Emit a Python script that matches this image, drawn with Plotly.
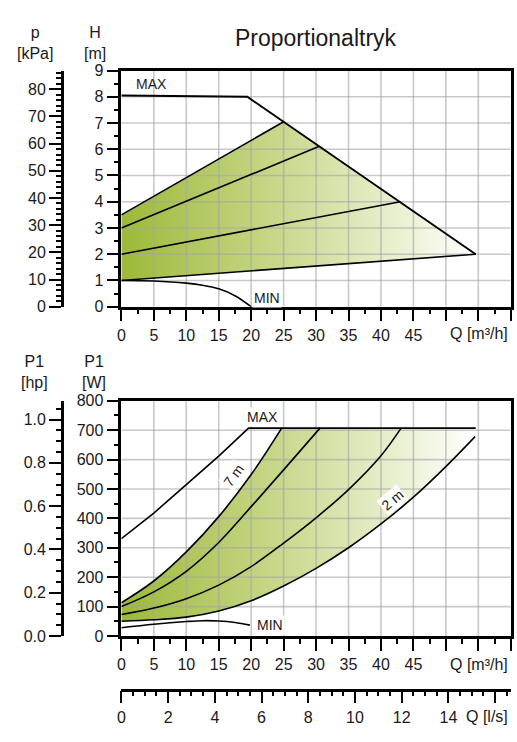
import numpy as np
import plotly.graph_objects as go

FIG_W, FIG_H = 517, 742
FONT = "Liberation Sans, Arial, sans-serif"
TXT = "#1a1a1a"

# ---------------- data: top panel (head H [m] vs Q [m3/h]) ----------------
q_max_h = [0, 10, 19.4, 54.6]
h_max = [8.05, 8.03, 8.0, 2.0]
q_min_h = [0, 5, 10, 12.5, 15, 17.5, 20]
h_min = [1.0, 0.98, 0.9, 0.82, 0.68, 0.42, 0.0]
prop_labels = ["7 m", "6 m", "4 m", "2 m"]
prop_q_end = [25.0, 30.5, 43.0, 54.6]
prop_h_start = [3.5, 3.0, 2.0, 1.0]
prop_h_end = [7.05, 6.11, 4.0, 2.0]

# ---------------- data: bottom panel (P1 [W] vs Q [m3/h]) ----------------
q_7m = [0, 5, 10, 15, 20, 24.7]
p_7m = [113, 187, 286, 406, 549, 707]
q_6m = [0, 5, 10, 15, 20, 25, 30.6]
p_6m = [100, 150, 220, 318, 440, 565, 707]
q_4m = [0, 5, 10, 15, 20, 25, 30, 35, 40, 43.1]
p_4m = [73, 95, 127, 173, 236, 316, 402, 498, 613, 707]
q_2m = [0, 5, 10, 15, 20, 25, 30, 35, 40, 45, 50, 54.5]
p_2m = [50, 55, 64, 85, 120, 170, 230, 300, 381, 472, 576, 678]
q_pmax = [0, 5, 10, 15, 19.6, 54.6]
p_pmax = [331, 418, 515, 612, 707, 707]
q_pmin = [0, 5, 10, 12.5, 15, 17.5, 19.8]
p_pmin = [28, 40, 49, 52, 51, 46, 37]

# ---------------- tick labels ----------------
q_ticks = list(range(0, 61, 5))
q_ticktext = [str(v) if v <= 45 else "" for v in q_ticks]
ls_ticks = list(range(0, 17, 2))
ls_ticktext = [str(v) if v <= 14 else "" for v in ls_ticks]
hp_ticks = [0, 0.2, 0.4, 0.6, 0.8, 1.0]
hp_ticktext = ["0.0", "0.2", "0.4", "0.6", "0.8", "1.0"]

Q_RANGE = [0, 60]
H_RANGE = [0, 9]
KPA_RANGE = [0, 86.9]
W_RANGE = [0, 800]
HP_RANGE = [0, 1.087]
LS_RANGE = [0, 60 / 3.6]


def px(x):
    return x / FIG_W


def py(y):
    return 1 - y / FIG_H


X_DOM = [px(118.3), px(510.7)]
TOP_DOM = [py(305.7), py(64)]
BOT_DOM = [py(642.7), py(402)]

GREEN_SCALE = [[0, "rgb(156,185,56)"], [0.5, "rgb(205,220,150)"], [1, "rgb(255,255,255)"]]
GRID_COL = "rgba(165,165,165,0.6)"
NOHOVER = dict(hoverinfo="skip", showlegend=False)

fig = go.Figure()

# ---- top panel fill ----
top_fill_x = [0, prop_q_end[3], prop_q_end[0], 0]
top_fill_y = [prop_h_start[3], prop_h_end[3], prop_h_end[0], prop_h_start[0]]
fig.add_trace(go.Scatter(x=top_fill_x, y=top_fill_y, fill="toself", mode="none",
                         fillgradient=dict(type="horizontal", colorscale=GREEN_SCALE),
                         xaxis="x", yaxis="y", **NOHOVER))


def grid_trace(xvals, yvals, xr, yr, xa, ya):
    gx, gy = [], []
    for v in xvals:
        gx += [v, v, None]
        gy += [yr[0], yr[1], None]
    for v in yvals:
        gx += [xr[0], xr[1], None]
        gy += [v, v, None]
    return go.Scatter(x=gx, y=gy, mode="lines", line=dict(color=GRID_COL, width=1.6),
                      xaxis=xa, yaxis=ya, **NOHOVER)


fig.add_trace(grid_trace(q_ticks[1:-1], list(range(1, 9)), Q_RANGE, H_RANGE, "x", "y"))

LINE = dict(color="black", width=1.6)
for i in range(4):
    fig.add_trace(go.Scatter(x=[0, prop_q_end[i]], y=[prop_h_start[i], prop_h_end[i]], mode="lines",
                             line=LINE, xaxis="x", yaxis="y", **NOHOVER))
fig.add_trace(go.Scatter(x=q_max_h, y=h_max, mode="lines", line=dict(color="black", width=1.9),
                         xaxis="x", yaxis="y", **NOHOVER))
fig.add_trace(go.Scatter(x=q_min_h, y=h_min, mode="lines", line_shape="spline", line=LINE,
                         xaxis="x", yaxis="y", **NOHOVER))
fig.add_trace(go.Scatter(x=[0], y=[0], mode="markers", marker=dict(opacity=0), xaxis="x", yaxis="y2",
                         **NOHOVER))

# ---- bottom panel fill: between 2 m curve and (7 m curve + MAX plateau) ----
fig.add_trace(go.Scatter(x=q_2m, y=p_2m, mode="lines", line=dict(width=0), line_shape="spline",
                         xaxis="x2", yaxis="y3", **NOHOVER))
top_edge_x = q_7m + [q_7m[-1] + 0.1, q_pmax[-1]]
top_edge_y = p_7m + [p_pmax[-1], p_pmax[-1]]
fig.add_trace(go.Scatter(x=top_edge_x, y=top_edge_y, mode="lines", line=dict(width=0), line_shape="spline",
                         fill="tonexty", fillgradient=dict(type="horizontal", colorscale=GREEN_SCALE),
                         xaxis="x2", yaxis="y3", **NOHOVER))
fig.add_trace(grid_trace(q_ticks[1:-1], list(range(100, 800, 100)), Q_RANGE, W_RANGE, "x2", "y3"))
for qq, pp in [(q_7m, p_7m), (q_6m, p_6m), (q_4m, p_4m), (q_2m, p_2m)]:
    fig.add_trace(go.Scatter(x=qq, y=pp, mode="lines", line=LINE, line_shape="spline",
                             xaxis="x2", yaxis="y3", **NOHOVER))
fig.add_trace(go.Scatter(x=q_pmax, y=p_pmax, mode="lines", line=LINE, xaxis="x2", yaxis="y3", **NOHOVER))
fig.add_trace(go.Scatter(x=q_pmin, y=p_pmin, mode="lines", line_shape="spline", line=LINE,
                         xaxis="x2", yaxis="y3", **NOHOVER))
fig.add_trace(go.Scatter(x=[0], y=[0], mode="markers", marker=dict(opacity=0), xaxis="x2", yaxis="y4",
                         **NOHOVER))
fig.add_trace(go.Scatter(x=[0], y=[0], mode="markers", marker=dict(opacity=0), xaxis="x3", yaxis="y3",
                         **NOHOVER))

TICKFONT = dict(size=16, color=TXT, family=FONT)


def minor(d):
    return dict(tickmode="linear", tick0=0, dtick=d, ticks="outside", ticklen=5, tickwidth=1.5,
                tickcolor="black", showgrid=False)


base = dict(showline=True, linecolor="black", linewidth=2.5, ticks="outside", tickcolor="black",
            tickwidth=2.2, ticklen=12, showgrid=False, zeroline=False, tickfont=TICKFONT, fixedrange=True)

fig.update_layout(
    width=FIG_W, height=FIG_H, autosize=False,
    margin=dict(l=0, r=0, t=0, b=0),
    paper_bgcolor="white", plot_bgcolor="white",
    font=dict(family=FONT, color=TXT),
    xaxis=dict(base, domain=X_DOM, range=Q_RANGE, anchor="y", mirror=True,
               tickmode="array", tickvals=q_ticks, ticktext=q_ticktext, minor=minor(2.5)),
    yaxis=dict(base, domain=TOP_DOM, range=H_RANGE, anchor="x", mirror=True, dtick=1, minor=minor(0.5)),
    yaxis2=dict(base, overlaying="y", anchor="free", position=px(58.3), side="left",
                range=KPA_RANGE, dtick=10, minor=minor(2)),
    xaxis2=dict(base, domain=X_DOM, range=Q_RANGE, anchor="y3", mirror=True,
                tickmode="array", tickvals=q_ticks, ticktext=q_ticktext, minor=minor(2.5)),
    yaxis3=dict(base, domain=BOT_DOM, range=W_RANGE, anchor="x2", mirror=True, dtick=100, minor=minor(50)),
    yaxis4=dict(base, overlaying="y3", anchor="free", position=px(58.3), side="left",
                range=HP_RANGE, tickmode="array", tickvals=hp_ticks, ticktext=hp_ticktext, minor=minor(0.05)),
    xaxis3=dict(base, overlaying="x2", anchor="free", position=py(697.7), side="bottom",
                range=LS_RANGE, tickmode="array", tickvals=ls_ticks, ticktext=ls_ticktext, minor=minor(0.5)),
)

ann = []


def paper_text(text, x, y, size=16, xanchor="center"):
    ann.append(dict(text=text, x=px(x), y=py(y), xref="paper", yref="paper", showarrow=False,
                    xanchor=xanchor, yanchor="middle", font=dict(size=size, color=TXT, family=FONT)))


paper_text("Proportionaltryk", 314, 31, size=23)
paper_text("p<br>[kPa]", 31.7, 36)
paper_text("H<br>[m]", 91.7, 36)
paper_text("P1<br>[hp]", 31, 373)
paper_text("P1<br>[W]", 91, 373)
paper_text("Q [m³/h]", 510, 333, xanchor="right")
paper_text("Q [m³/h]", 510, 671.7, xanchor="right")
paper_text("Q [l/s]", 510, 725, xanchor="right")


def data_text(text, x, y, xa, ya, xanchor="left", angle=0, bg=None):
    d = dict(text=text, x=x, y=y, xref=xa, yref=ya, showarrow=False, xanchor=xanchor, yanchor="middle",
             textangle=angle, font=dict(size=14, color=TXT, family=FONT))
    if bg:
        d["bgcolor"] = bg
    ann.append(d)


data_text("MAX", 2.0, 8.49, "x", "y")
data_text("MIN", 20.1, 0.35, "x", "y", bg="white")
data_text("MAX", 19.1, 746, "x2", "y3", bg="white")
data_text("MIN", 20.6, 36, "x2", "y3", bg="white")
data_text(prop_labels[0], 17.2, 545, "x2", "y3", xanchor="center", angle=-54, bg="white")
data_text(prop_labels[3], 41.8, 462, "x2", "y3", xanchor="center", angle=-40, bg="white")

fig.update_layout(annotations=ann)
fig.write_html(
    "out.html",
    config={"displayModeBar": False},
    post_script="document.body.style.margin='0';document.body.style.padding='0';"
                "document.documentElement.style.overflow='hidden';document.body.style.overflow='hidden';",
)
